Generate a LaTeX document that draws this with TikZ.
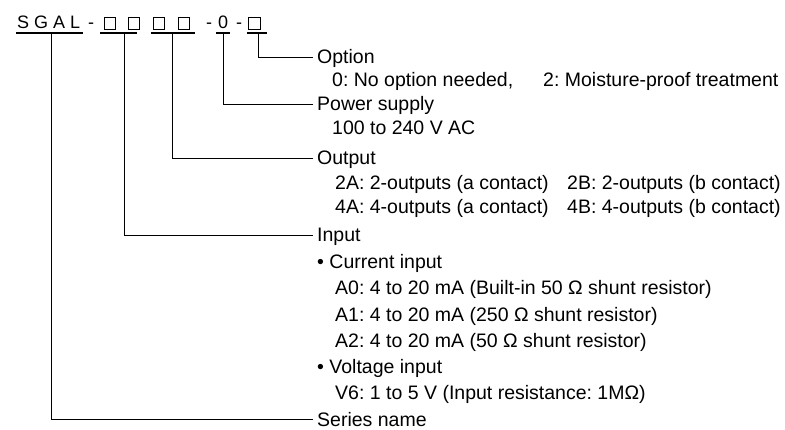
\documentclass[tikz,border=0pt]{standalone}
\usepackage{fontspec}
\setmainfont{Liberation Sans}
\begin{document}
\frenchspacing
\begin{tikzpicture}[x=1pt,y=-1pt,
  lbl/.style={anchor=base west,inner sep=0pt,font=\fontsize{19.5}{23}\selectfont},
  code/.style={anchor=base west,inner sep=0pt,font=\fontsize{18}{22}\selectfont},
  uline/.style={line width=2pt},
  conn/.style={line width=0.8pt},
  sq/.style={draw,line width=0.9pt,minimum width=11.5pt,minimum height=12.5pt,inner sep=0pt,anchor=south west}]
\useasboundingbox (0,0) rectangle (785,430);
% code line
\node[code] (sgal) at (17,29) {S G A L};
\node[code] (d1) at (88,29) {-};
\node[sq] (b1) at (103.5,30) {};
\node[sq] (b2) at (127.5,30) {};
\node[sq] (b3) at (152.5,30) {};
\node[sq] (b4) at (177.5,30) {};
\node[code] (d2) at (206,29) {-};
\node[code] (zero) at (218,29) {0};
\node[code] (d3) at (236,29) {-};
\node[sq] (b5) at (248,30) {};
% underlines
\draw[uline] (16,33.5) -- (83,33.5);
\draw[uline] (100,33.5) -- (137,33.5);
\draw[uline] (151,33.5) -- (195,33.5);
\draw[uline] (216,33.5) -- (230,33.5);
\draw[uline] (247,33.5) -- (267,33.5);
\coordinate (uS) at (51,34.5);
\coordinate (uI) at (124,34.5);
\coordinate (uO) at (172,34.5);
\coordinate (uP) at (223,34.5);
\coordinate (uX) at (258,34.5);
% labels
\node[lbl] (opt) at (317,64) {Option};
\node[lbl] (opt1) at (332,87) {0: No option needed,};
\node[lbl] (opt2) at (543,87) {2: Moisture-proof treatment};
\node[lbl] (pow) at (317,111) {Power supply};
\node[lbl] (pow1) at (332,135) {100 to 240 V AC};
\node[lbl] (out) at (317,165) {Output};
\node[lbl] (out1) at (335,190) {2A: 2-outputs (a contact)};
\node[lbl] (out2) at (567,190) {2B: 2-outputs (b contact)};
\node[lbl] (out3) at (335,214) {4A: 4-outputs (a contact)};
\node[lbl] (out4) at (567,214) {4B: 4-outputs (b contact)};
\node[lbl] (inp) at (317,242) {Input};
\node[lbl] (cur) at (317,269) {• Current input};
\node[lbl] (a0) at (335,295) {A0: 4 to 20 mA (Built-in 50 Ω shunt resistor)};
\node[lbl] (a1) at (335,322) {A1: 4 to 20 mA (250 Ω shunt resistor)};
\node[lbl] (a2) at (335,348) {A2: 4 to 20 mA (50 Ω shunt resistor)};
\node[lbl] (vol) at (317,374) {• Voltage input};
\node[lbl] (v6) at (335,400) {V6: 1 to 5 V (Input resistance: 1MΩ)};
\node[lbl] (ser) at (317,426) {Series name};
% connectors
\draw[conn] (uX) |- ([shift={(-4,-7)}]opt.base west);
\draw[conn] (uP) |- ([shift={(-4,-7)}]pow.base west);
\draw[conn] (uO) |- ([shift={(-4,-7)}]out.base west);
\draw[conn] (uI) |- ([shift={(-4,-7)}]inp.base west);
\draw[conn] (uS) |- ([shift={(-4,-7)}]ser.base west);
\end{tikzpicture}
\end{document}
